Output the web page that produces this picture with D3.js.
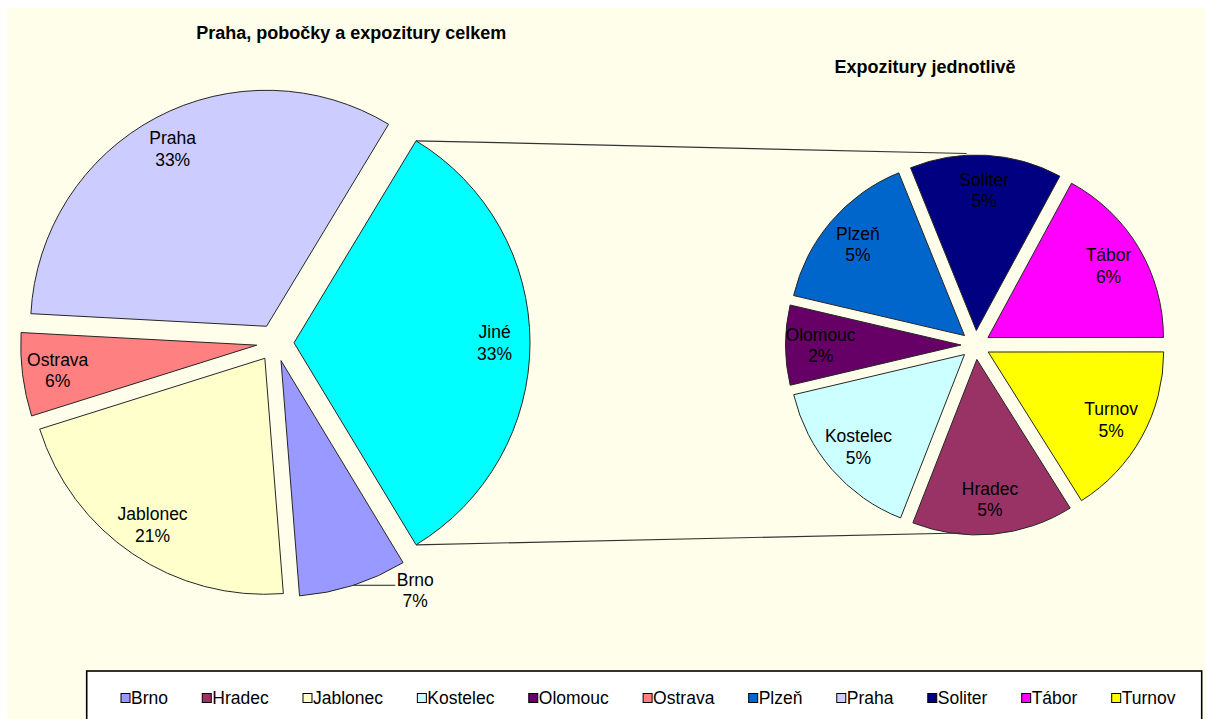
<!DOCTYPE html>
<html><head><meta charset="utf-8">
<script src="https://cdn.jsdelivr.net/npm/d3@7"></script>
<style>html,body{margin:0;padding:0;background:#fff;} svg{display:block;}</style>
</head><body>
<svg id="chart" width="1206" height="719"></svg>
<script>
// ---- data ----
const mainCategories = ["Jiné", "Brno", "Jablonec", "Ostrava", "Praha"];
const mainValues = [32.7, 7.4, 21.4, 5.7, 32.8];
const subCategories = ["Soliter", "Tábor", "Turnov", "Hradec", "Kostelec", "Olomouc", "Plzeň"];
const subValues = [4.58, 5.59, 5.26, 4.86, 5.03, 2.40, 4.98];
const legendCategories = ["Brno", "Hradec", "Jablonec", "Kostelec", "Olomouc", "Ostrava", "Plzeň", "Praha", "Soliter", "Tábor", "Turnov"];
const colorNames = ["Jiné", "Brno", "Jablonec", "Ostrava", "Praha", "Soliter", "Tábor", "Turnov", "Hradec", "Kostelec", "Olomouc", "Plzeň"];
const colorValues = ["#00FFFF", "#9999FF", "#FFFFCC", "#FF8080", "#CCCCFF", "#000080", "#FF00FF", "#FFFF00", "#993366", "#CCFFFF", "#660066", "#0066CC"];
const outsideLabels = ["Brno"];
const titles = ["Praha, pobočky a expozitury celkem", "Expozitury jednotlivě"];

// ---- drawing ----
const svg = d3.select("#chart");
const font = "'Liberation Sans', Arial, Helvetica, sans-serif";
const color = d3.scaleOrdinal().domain(colorNames).range(colorValues);
const dir = a => [Math.sin(a), -Math.cos(a)];
const mid = d => (d.startAngle + d.endAngle) / 2;
const FS = 17.5, LH = 21.7, CAP = 6.3;

svg.append("rect").attr("width", 1206).attr("height", 719).attr("fill", "#ffffff");
svg.append("rect").attr("x", 7).attr("y", 8).attr("width", 1199).attr("height", 711).attr("fill", "#FEFEEA");

const mainTotal = d3.sum(mainValues);
const pct = v => Math.round(v / mainTotal * 100) + "%";

// main pie
const C1 = [275.3, 342.8], R1 = 236, E1 = 18.7;
const a0 = Math.PI / 2 - Math.PI * (mainValues[0] / mainTotal);
const pie1 = d3.pie().sort(null).value(d => d).startAngle(a0).endAngle(a0 + 2 * Math.PI);
const arcs1 = pie1(mainValues);
const arc1 = d3.arc().innerRadius(0).outerRadius(R1);
const g1 = svg.append("g").attr("transform", `translate(${C1[0]},${C1[1]})`);
g1.selectAll("path").data(arcs1).join("path")
  .attr("d", arc1)
  .attr("transform", d => { const [x, y] = dir(mid(d)); return `translate(${x * E1},${y * E1})`; })
  .attr("fill", (d, i) => color(mainCategories[i]))
  .attr("stroke", "#262626").attr("stroke-width", 1);

// secondary pie
const C2 = [975.5, 345], R2 = 175.5, E2 = 14.5;
const s0 = -22 * Math.PI / 180;
const pie2 = d3.pie().sort(null).value(d => d).startAngle(s0).endAngle(s0 + 2 * Math.PI);
const arcs2 = pie2(subValues);
const arc2 = d3.arc().innerRadius(0).outerRadius(R2);
const g2 = svg.append("g").attr("transform", `translate(${C2[0]},${C2[1]})`);
g2.selectAll("path").data(arcs2).join("path")
  .attr("d", arc2)
  .attr("transform", d => { const [x, y] = dir(mid(d)); return `translate(${x * E2},${y * E2})`; })
  .attr("fill", (d, i) => color(subCategories[i]))
  .attr("stroke", "#262626").attr("stroke-width", 1);

// connector lines
const j = arcs1[0];
const jm = dir(mid(j));
const cornerTop = [C1[0] + E1 * jm[0] + R1 * dir(j.startAngle)[0], C1[1] + E1 * jm[1] + R1 * dir(j.startAngle)[1]];
const cornerBot = [C1[0] + E1 * jm[0] + R1 * dir(j.endAngle)[0], C1[1] + E1 * jm[1] + R1 * dir(j.endAngle)[1]];
const subTop = [C2[0] - 9, C2[1] - R2 - E2 - 1.5];
const subBot = [C2[0] - 15, C2[1] + R2 + E2 - 2];
svg.append("line").attr("x1", cornerTop[0]).attr("y1", cornerTop[1]).attr("x2", subTop[0]).attr("y2", subTop[1])
  .attr("stroke", "#333").attr("stroke-width", 1.2);
svg.append("line").attr("x1", cornerBot[0]).attr("y1", cornerBot[1]).attr("x2", subBot[0]).attr("y2", subBot[1])
  .attr("stroke", "#333").attr("stroke-width", 1.2);

function twoLine(g, x, y, name, p) {
  const t = g.append("text").attr("text-anchor", "middle").attr("font-family", font)
    .attr("font-size", FS).attr("fill", "#000");
  t.append("tspan").attr("x", x).attr("y", y - LH / 2 + CAP).text(name);
  t.append("tspan").attr("x", x).attr("y", y + LH / 2 + CAP).text(p);
}

// main labels
const lab = svg.append("g");
arcs1.forEach((d, i) => {
  const name = mainCategories[i];
  const [dx, dy] = dir(mid(d));
  if (outsideLabels.includes(name)) {
    const px = C1[0] + (E1 + R1) * dx, py = C1[1] + (E1 + R1) * dy;
    lab.append("line").attr("x1", px).attr("y1", py).attr("x2", px + 42).attr("y2", py)
      .attr("stroke", "#222").attr("stroke-width", 1);
    const t = lab.append("text").attr("text-anchor", "middle").attr("font-family", font)
      .attr("font-size", FS).attr("fill", "#000");
    t.append("tspan").attr("x", px + 62).attr("y", py + 0.5).text(name);
    t.append("tspan").attr("x", px + 62).attr("y", py + 0.5 + LH).text(pct(mainValues[i]));
  } else {
    const k = E1 + 0.85 * R1;
    twoLine(lab, C1[0] + k * dx, C1[1] + k * dy, name, pct(mainValues[i]));
  }
});
// sub labels
arcs2.forEach((d, i) => {
  const [dx, dy] = dir(mid(d));
  const k = E2 + 0.8 * R2;
  twoLine(lab, C2[0] + k * dx, C2[1] + k * dy, subCategories[i], pct(subValues[i]));
});

// titles
svg.append("text").attr("x", 351.3).attr("y", 39.3).attr("text-anchor", "middle")
  .attr("font-family", font).attr("font-weight", "bold").attr("font-size", 18).attr("fill", "#000").text(titles[0]);
svg.append("text").attr("x", 925).attr("y", 73.3).attr("text-anchor", "middle")
  .attr("font-family", font).attr("font-weight", "bold").attr("font-size", 18).attr("fill", "#000").text(titles[1]);

// legend
svg.append("rect").attr("x", 86.7).attr("y", 671).attr("width", 1115).attr("height", 70)
  .attr("fill", "#ffffff").attr("stroke", "#000").attr("stroke-width", 1.6);
const lg = svg.append("g");
const items = legendCategories.map(name => {
  const g = lg.append("g");
  g.append("rect").attr("x", 0).attr("y", 693.5).attr("width", 9).attr("height", 9)
    .attr("fill", color(name)).attr("stroke", "#000").attr("stroke-width", 1);
  const t = g.append("text").attr("x", 10).attr("y", 704).attr("font-family", font)
    .attr("font-size", FS).attr("fill", "#000").text(name);
  return { g, w: 10 + t.node().getComputedTextLength() };
});
const xStart = 121, xLast = 1111.7;
const gap = (xLast - xStart - d3.sum(items.slice(0, -1), d => d.w)) / (items.length - 1);
let xx = xStart;
items.forEach(it => { it.g.attr("transform", `translate(${xx},0)`); xx += it.w + gap; });
</script>
</body></html>
